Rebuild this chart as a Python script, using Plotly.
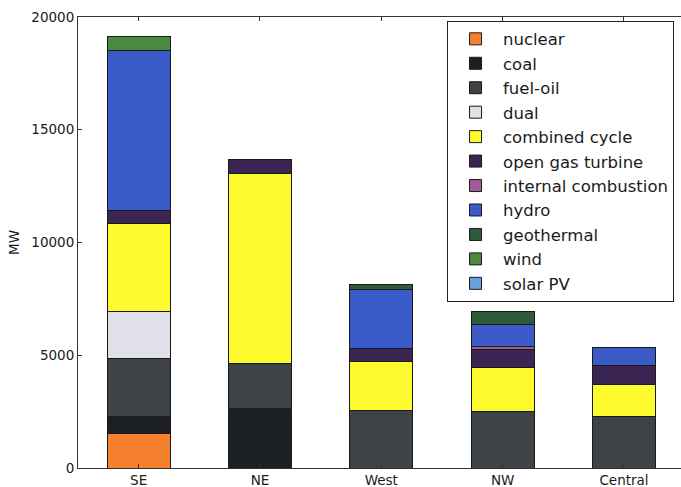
import plotly.graph_objects as go

regions = ["SE", "NE", "West", "NW", "Central"]
technologies = ["nuclear", "coal", "fuel-oil", "dual", "combined cycle",
                "open gas turbine", "internal combustion", "hydro",
                "geothermal", "wind", "solar PV"]

nuclear = [1550, 0, 0, 0, 0]
coal = [720, 2620, 0, 0, 0]
fuel_oil = [2580, 2015, 2560, 2515, 2295]
dual = [2090, 0, 0, 0, 0]
combined_cycle = [3910, 8430, 2180, 1930, 1410]
open_gas_turbine = [560, 600, 550, 815, 845]
internal_combustion = [0, 0, 0, 145, 0]
hydro = [7110, 0, 2635, 965, 815]
geothermal = [0, 0, 220, 590, 0]
wind = [595, 0, 0, 0, 0]
solar_pv = [0, 0, 0, 0, 0]

y_ticks = [0, 5000, 10000, 15000, 20000]

series = [nuclear, coal, fuel_oil, dual, combined_cycle, open_gas_turbine,
          internal_combustion, hydro, geothermal, wind, solar_pv]
colors = ["#f5812e", "#1c1f24", "#3e4347", "#dfe0e8", "#fdfb2e", "#3b2553",
          "#a05c9c", "#3a5bc7", "#2d5a3a", "#4b8a3e", "#6c9fdb"]

fig = go.Figure()
for name, vals, col in zip(technologies, series, colors):
    fig.add_trace(go.Bar(
        x=list(range(len(regions))),
        y=[v if v else None for v in vals],
        name=name,
        width=0.52,
        marker=dict(color=col, line=dict(color="#1a1a1a", width=1)),
    ))

font = "DejaVu Sans"
fig.update_layout(
    barmode="stack",
    width=681, height=487,
    margin=dict(l=78, r=0, t=17, b=19),
    paper_bgcolor="white", plot_bgcolor="white",
    font=dict(family=font, size=14, color="#1a1a1a"),
    showlegend=True,
    legend=dict(
        traceorder="normal",
        x=0.612, y=0.992, xanchor="left", yanchor="top",
        bgcolor="white", bordercolor="#222", borderwidth=1,
        font=dict(family=font, size=16.5, color="#1a1a1a"),
        itemwidth=45,
    ),
    xaxis=dict(
        range=[-0.5, 4.47],
        tickmode="array",
        tickvals=list(range(len(regions))),
        ticktext=regions,
        ticks="inside", ticklen=4, tickcolor="#333",
        showline=True, linecolor="#333", linewidth=1, mirror="ticks",
        showgrid=False, zeroline=False,
        tickfont=dict(family=font, size=13.5, color="#1a1a1a"),
    ),
    yaxis=dict(
        range=[0, 20000],
        tickmode="array",
        tickvals=y_ticks,
        ticktext=[str(v) for v in y_ticks],
        ticks="inside", ticklen=4, tickcolor="#333",
        showline=True, linecolor="#333", linewidth=1,
        showgrid=False, zeroline=False,
        title=dict(text="MW", font=dict(family=font, size=13.5, color="#1a1a1a"), standoff=8),
        tickfont=dict(family=font, size=13.5, color="#1a1a1a"),
    ),
)

fig.write_html("out.html",
               config={"displayModeBar": False},
               post_script="document.body.style.margin='0';document.body.style.padding='0';")
